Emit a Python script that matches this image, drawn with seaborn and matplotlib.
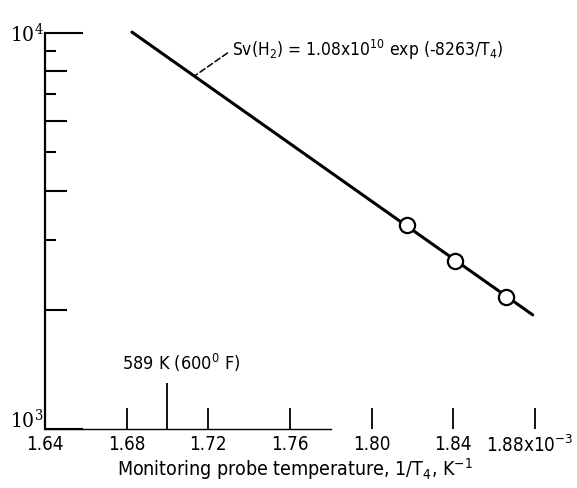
import numpy as np
import pandas as pd
import seaborn as sns
import matplotlib
matplotlib.use("Agg")
import matplotlib.pyplot as plt
import matplotlib.transforms as mtransforms
from matplotlib.ticker import NullLocator, FixedLocator, FixedFormatter

# ---- data ----
line_x = [1.6826, 1.879]          # 1/T4, 10^-3 K^-1
line_y = [10050, 1941]            # Sv(H2)
pt_x = [1.8172, 1.8408, 1.8661]
pt_y = [3275, 2656, 2154]
xticks = [1.64, 1.68, 1.72, 1.76, 1.80, 1.84, 1.88]
xticklabels = ["1.64", "1.68", "1.72", "1.76", "1.80", "1.84", "1.88x10$^{-3}$"]
ymajor = [1000, 10000]
ymajor_labels = ["10$^3$", "10$^4$"]
yminor_long = [2000, 4000, 6000, 8000]
yminor_short = [3000, 5000, 7000, 9000]
marker_x = [1.70]
marker_label = "589 K (600$^0$ F)"
equation = "Sv(H$_2$) = 1.08x10$^{10}$ exp (-8263/T$_4$)"
xlabel = "Monitoring probe temperature, 1/T$_4$, K$^{-1}$"

sns.set_style("ticks")
plt.rcParams["font.family"] = ["DejaVu Sans"]
plt.rcParams["font.stretch"] = "condensed"
plt.rcParams["mathtext.default"] = "regular"
for k in ["text.color", "axes.labelcolor", "xtick.color", "ytick.color",
          "axes.edgecolor"]:
    plt.rcParams[k] = "black"

fig = plt.figure(figsize=(5.77, 4.88), dpi=100)
ax = fig.add_axes([0.078, 0.121, 0.8665, 0.8115])
ax.set_yscale("log")

df_line = pd.DataFrame({"x": line_x, "y": line_y})
df_pts = pd.DataFrame({"x": pt_x, "y": pt_y})

sns.lineplot(data=df_line, x="x", y="y", color="black", lw=2.2, ax=ax)
ax.lines[-1].set_clip_on(False)
sns.scatterplot(data=df_pts, x="x", y="y", s=120, color="white",
                edgecolor="black", linewidth=1.6, zorder=3, ax=ax, clip_on=False)

ax.set_xlim(1.64, 1.885)
ax.set_ylim(1000, 10000)

for s in ["top", "right"]:
    ax.spines[s].set_visible(False)
ax.spines["left"].set_linewidth(1.6)
ax.spines["bottom"].set_linewidth(1.0)
ax.spines["bottom"].set_bounds(1.64, 1.78)

# x ticks
ax.xaxis.set_major_locator(FixedLocator(xticks))
ax.xaxis.set_major_formatter(FixedFormatter(xticklabels))
ax.xaxis.set_minor_locator(NullLocator())
ax.tick_params(axis="x", which="major", direction="in", length=15, width=1.3,
               pad=4, labelsize=13.5)

# y ticks
ax.yaxis.set_major_locator(FixedLocator(ymajor))
ax.yaxis.set_major_formatter(FixedFormatter(ymajor_labels))
ax.yaxis.set_minor_locator(FixedLocator(yminor_long))
ax.tick_params(axis="y", which="major", direction="in", length=27, width=1.5,
               pad=1, labelsize=15, labelfontfamily="DejaVu Serif")
ax.tick_params(axis="y", which="minor", direction="in", length=16, width=1.5)

sec = ax.secondary_yaxis("left")
sec.yaxis.set_major_locator(FixedLocator(yminor_short))
sec.yaxis.set_minor_locator(NullLocator())
sec.tick_params(axis="y", which="both", direction="in", length=8, width=1.5,
                labelleft=False)
sec.spines["left"].set_visible(False)

secx = ax.secondary_xaxis("bottom")
secx.xaxis.set_major_locator(FixedLocator(marker_x))
secx.xaxis.set_minor_locator(NullLocator())
secx.tick_params(axis="x", which="both", direction="in", length=33, width=1.3,
                 labelbottom=False)
secx.spines["bottom"].set_visible(False)

ax.text(1.7066, 1468, marker_label, ha="center", va="center", fontsize=13)

ax.annotate(equation, xy=(1.7135, 7800), xytext=(1.7316, 9060),
            ha="left", va="center", fontsize=12.5,
            arrowprops=dict(arrowstyle="-", linestyle=(0, (4, 2)), lw=1.1,
                            color="black", shrinkA=1, shrinkB=0,
                            relpos=(0, 0.5)))

ax.set_xlabel(xlabel, fontsize=14, labelpad=0)
ax.set_ylabel("")

fig.canvas.draw()
lab = ax.yaxis.get_major_ticks()[0].label1
lab.set_verticalalignment("baseline")
last = ax.xaxis.get_major_ticks()[-1].label1
last.set_transform(last.get_transform() +
                   mtransforms.ScaledTranslation(-4 / 72, 0, fig.dpi_scale_trans))

fig.savefig("out.png", dpi=100)
